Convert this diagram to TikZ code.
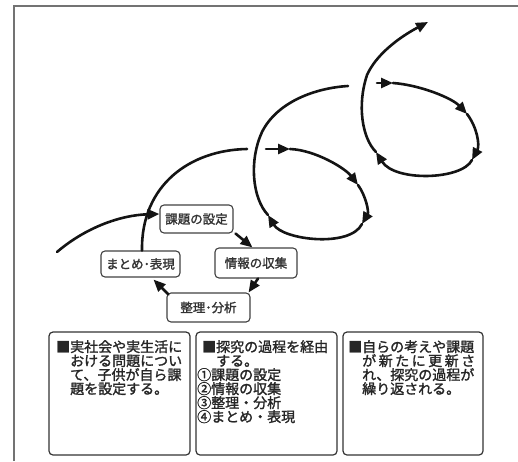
\documentclass[tikz,border=0pt]{standalone}
\usepackage{fontspec}
\setmainfont{Noto Sans CJK JP}[UprightFeatures={FakeBold=1.6}]
\usetikzlibrary{arrows.meta,calc}
\begin{document}
\begin{tikzpicture}[x=1pt,y=-1pt,
  spiral/.style={line width=2.6pt, draw=black!92, line cap=round},
  tip/.style={-{Triangle[length=12pt,width=10pt]}},
  stepbox/.style={draw=black!75, line width=1.1pt, rounded corners=4pt, inner sep=0pt,
    font=\fontsize{12.5}{13}\selectfont, text=black!80},
  infobox/.style={draw=black!80, line width=1.2pt, rounded corners=4pt, inner sep=0pt},
  infotext/.style={anchor=north west, inner sep=0pt, align=left,
    font=\fontsize{14}{14}\selectfont, text=black!85},
]
\useasboundingbox (0,0) rectangle (518,461);
% frame
\draw[black!55, line width=1.8pt] (14,461) -- (14,6) -- (518,6);

% step boxes
\node[stepbox, minimum width=73pt, minimum height=28pt] (kadai) at (196.5,219) {課題の設定};
\node[stepbox, minimum width=82pt, minimum height=30pt] (joho) at (256,263) {情報の収集};
\node[stepbox, minimum width=79pt, minimum height=26pt] (matome) at (140.5,264) {まとめ･表現};
\node[stepbox, minimum width=83pt, minimum height=29pt] (seiri) at (208.5,307.5) {整理･分析};

% cycle arrows
\draw[spiral,tip] ($(kadai.south east)+(2,0)$) -- ($(joho.north west)+(38,0)$);
\draw[spiral,tip] ($(joho.south)+(2,0)$) -- ($(seiri.north east)+(-2,0)$);
\draw[spiral,tip] ($(seiri.north west)+(2,2)$) -- ($(matome.south)+(13,2)$);

% entry arrow
\coordinate (e0) at (57,252);
\draw[spiral,tip] (e0) .. controls (85,228) and (120,215) .. ($(kadai.west)+(0,-5)$);

% spiral
\draw[spiral] ($(matome.north)+(1.5,0)$) .. controls (141,185) and (190,150) .. (247,149);
\draw[spiral,tip] (266,149) -- (290,149);
\draw[spiral,tip] (290,149) .. controls (315,150) and (345,168) .. (358,185);
\draw[spiral,tip] (358,185) .. controls (366,196) and (369,212) .. (362,224);
\draw[spiral,tip] (362,224) .. controls (350,248) and (283,240) .. (268,215);
\draw[spiral] (268,215) .. controls (252,198) and (249,160) .. (262,132)
  .. controls (277,102) and (315,88) .. (348,86);
\draw[spiral,tip] (377,83) -- (393,83);
\draw[spiral,tip] (393,83) .. controls (420,85) and (452,98) .. (467,114);
\draw[spiral,tip] (467,114) .. controls (477,127) and (480,145) .. (472,160);
\draw[spiral,tip] (472,160) .. controls (462,180) and (395,182) .. (376,152);
\draw[spiral,tip] (376,152) .. controls (362,138) and (357,105) .. (367,75)
  .. controls (376,55) and (398,38) .. (428,22);

% info boxes
\node[infobox, minimum width=141pt, minimum height=123pt] (b1) at (119.5,393.5) {};
\node[infobox, minimum width=141pt, minimum height=123pt] (b2) at (266.5,393.5) {};
\node[infobox, minimum width=140pt, minimum height=123pt] (b3) at (413,393.5) {};

\node[infotext] (t1) at (56,340) {■実社会や実生活に\\\hspace*{14pt}おける問題につい\\\hspace*{14pt}て、子供が自ら課\\\hspace*{14pt}題を設定する。};
\node[infotext] (t2) at (202,340) {■探究の過程を経由\\\hspace*{14pt}する。\\\hspace*{-5pt}①課題の設定\\\hspace*{-5pt}②情報の収集\\\hspace*{-5pt}③整理・分析\\\hspace*{-5pt}④まとめ・表現};
\node[infotext] (t3) at (348,340) {■自らの考えや課題\\\hspace*{14pt}\makebox[113pt][s]{が\hfil 新\hfil た\hfil に\hfil 更\hfil 新\hfil さ}\\\hspace*{14pt}れ、探究の過程が\\\hspace*{14pt}繰り返される。};
\end{tikzpicture}
\end{document}
